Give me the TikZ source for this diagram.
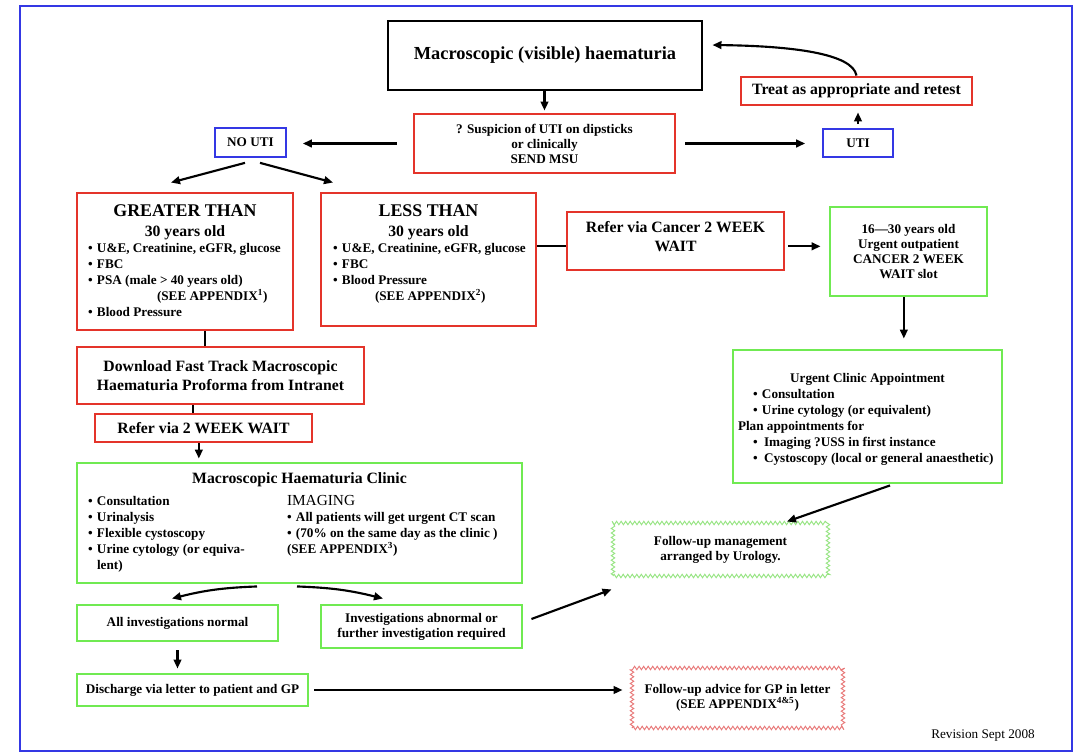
\documentclass[tikz,border=0pt]{standalone}
\usepackage{fontspec}
\setmainfont{Liberation Serif}
\usetikzlibrary{positioning,arrows.meta,decorations.pathmorphing}
\definecolor{boxred}{RGB}{228,52,42}
\definecolor{boxgreen}{RGB}{112,234,82}
\definecolor{boxblue}{RGB}{52,56,228}
\definecolor{zzgreen}{RGB}{150,228,130}
\definecolor{zzred}{RGB}{232,120,120}
\newcommand{\bul}{\makebox[6.75pt][l]{\textbullet}}
\newcommand{\smallbf}{\fontsize{9.9pt}{11.25pt}\selectfont\bfseries}
\newcommand{\listbf}{\fontsize{9.9pt}{12pt}\selectfont\bfseries}
\newcommand{\midbf}{\fontsize{11.8pt}{14pt}\selectfont\bfseries}
\newcommand{\titlebf}{\fontsize{13.8pt}{16pt}\selectfont\bfseries}
\tikzset{
    flowbox/.style={draw,line width=2.2pt,inner sep=0pt},
    redbox/.style={flowbox,draw=boxred},
    greenbox/.style={flowbox,draw=boxgreen},
    bluebox/.style={draw=boxblue,line width=1.3pt,inner sep=0pt,font=\smallbf},
    zzbox/.style={draw,line width=0.7pt,inner sep=0pt,align=center,font=\smallbf,
        decorate,decoration={zigzag,segment length=3.4pt,amplitude=1.3pt}},
    arr/.style={-{Triangle[length=6.75pt,width=5.75pt]},line width=1.6pt},
    conn/.style={line width=1.6pt}
}

\begin{document}
\begin{tikzpicture}[x=0.75pt,y=-0.75pt]
    \useasboundingbox (0,0) rectangle (1079,755);
    \draw[boxblue,line width=1.5pt] (20,6) rectangle (1072,751);

    \node[flowbox,draw=black,minimum width=235.5pt,minimum height=51.75pt,font=\titlebf] (main) at (545,55.5) {Macroscopic (visible) haematuria};
    \node[redbox,minimum width=173.25pt,minimum height=21pt,font=\midbf] (treat) at (856.5,91) {Treat as appropriate and retest};
    \node[redbox,minimum width=195.75pt,minimum height=44.25pt,align=center,font=\smallbf] (susp) at (544.5,143.5) {? Suspicion of UTI on dipsticks\\or clinically\\SEND MSU};
    \node[bluebox,minimum width=53.25pt,minimum height=21.75pt] (noUTI) at (250.5,142.5) {NO UTI};
    \node[bluebox,minimum width=52.5pt,minimum height=21pt] (uti) at (858,143) {UTI};

    \node[redbox,minimum width=162pt,minimum height=102.75pt] (greater) at (185,261.5) {\begin{minipage}[c][102.75pt][t]{162pt}\bfseries\centering
        \vspace*{8.4pt}
        {\fontsize{13.4pt}{15pt}\selectfont GREATER THAN\par}
        {\fontsize{11.8pt}{15pt}\selectfont 30 years old\par}
        \listbf\raggedright\leftskip=8.25pt
        \bul U\&E, Creatinine, eGFR, glucose\\
        \bul FBC\\
        \bul PSA (male > 40 years old)\\
        \hspace*{51.75pt}(SEE APPENDIX\textsuperscript{1})\\
        \bul Blood Pressure\par
    \end{minipage}};
    \node[redbox,minimum width=161.25pt,minimum height=99.75pt] (less) at (428.5,259.5) {\begin{minipage}[c][99.75pt][t]{161.25pt}\bfseries\centering
        \vspace*{8.4pt}
        {\fontsize{13.4pt}{15pt}\selectfont LESS THAN\par}
        {\fontsize{11.8pt}{15pt}\selectfont 30 years old\par}
        \listbf\raggedright\leftskip=9pt
        \bul U\&E, Creatinine, eGFR, glucose\\
        \bul FBC\\
        \bul Blood Pressure\\
        \hspace*{31.5pt}(SEE APPENDIX\textsuperscript{2})\par
    \end{minipage}};

    \node[redbox,minimum width=162.75pt,minimum height=43.5pt] (cancer) at (675.5,241) {\begin{minipage}[c][43.5pt][t]{162.75pt}\midbf\centering
        \vspace*{7pt}
        Refer via Cancer 2 WEEK\\WAIT\par
    \end{minipage}};
    \node[greenbox,minimum width=117.75pt,minimum height=66.75pt,align=center,font=\smallbf] (t16) at (908.5,251.5) {16---30 years old\\Urgent outpatient\\CANCER 2 WEEK\\WAIT slot};
    \node[greenbox,minimum width=201.75pt,minimum height=99.75pt] (urgent) at (867.5,416.5) {\begin{minipage}[c][99.75pt][t]{194.25pt}\listbf
        \vspace*{17.3pt}
        {\centering Urgent Clinic Appointment\par}
        \raggedright
        \hspace*{11.25pt}\bul Consultation\\
        \hspace*{11.25pt}\bul Urine cytology (or equivalent)\\
        Plan appointments for\\
        \hspace*{11.25pt}\makebox[8.25pt][l]{\textbullet}Imaging ?USS in first instance\\
        \hspace*{11.25pt}\makebox[8.25pt][l]{\textbullet}Cystoscopy (local or general anaesthetic)\par
    \end{minipage}};
    \node[zzbox,draw=zzgreen,minimum width=161.25pt,minimum height=39.75pt] (mgmt) at (720.5,549.5) {Follow-up management\\arranged by Urology.};

    \node[redbox,minimum width=215.25pt,minimum height=42.75pt,align=center,font=\fontsize{11.8pt}{14.25pt}\selectfont\bfseries] (download) at (220.5,375.5) {Download Fast Track Macroscopic\\Haematuria Proforma from Intranet};
    \node[redbox,minimum width=162.75pt,minimum height=21pt,font=\midbf] (wait2) at (203.5,428) {Refer via 2 WEEK WAIT};
    \node[greenbox,minimum width=333.75pt,minimum height=90pt] (clinic) at (299.5,523) {\begin{minipage}[c][90pt][t]{333.75pt}\bfseries
        \vspace*{7pt}
        {\centering\fontsize{11.8pt}{14pt}\selectfont Macroscopic Haematuria Clinic\par}
        \fontsize{9.9pt}{16.5pt}\selectfont\hspace*{8.25pt}%
        \begin{minipage}[t]{149.25pt}\listbf
            \bul Consultation\\
            \bul Urinalysis\\
            \bul Flexible cystoscopy\\
            \bul Urine cytology (or equiva-\\
            \hspace*{6.75pt}lent)
        \end{minipage}%
        \begin{minipage}[t]{170pt}\listbf
            {\mdseries\fontsize{11.5pt}{12pt}\selectfont IMAGING}\\
            \bul All patients will get urgent CT scan\\
            \bul (70\% on the same day as the clinic )\\
            (SEE APPENDIX\textsuperscript{3})
        \end{minipage}\par
    \end{minipage}};

    \node[greenbox,minimum width=150.75pt,minimum height=27pt,font=\smallbf] (normal) at (177.5,623) {All investigations normal};
    \node[greenbox,minimum width=150.75pt,minimum height=32.25pt,align=center,font=\smallbf] (abnormal) at (421.5,626.5) {Investigations abnormal or\\further investigation required};
    \node[greenbox,minimum width=173.25pt,minimum height=24pt,font=\smallbf] (discharge) at (192.5,690) {Discharge via letter to patient and GP};
    \node[zzbox,draw=zzred,minimum width=158.25pt,minimum height=45pt] (advice) at (737.5,698) {Follow-up advice for GP in letter\\(SEE APPENDIX\textsuperscript{4\&5})};
    \node[font=\fontsize{9.9pt}{12pt}\selectfont] (rev) at (983,736) {Revision Sept 2008};

    \coordinate (lc) at ([yshift=-4]cancer.west);
    \coordinate (rc) at ([yshift=-4]cancer.east);
    \coordinate (ts) at ([xshift=-3.5]t16.south);
    \coordinate (gd) at ([xshift=15]greater.south);
    \coordinate (dw) at ([xshift=-20.5]download.south);
    \coordinate (wc) at ([xshift=-3.5]wait2.south);

    \draw[arr,shorten >=1.5pt] (main.south -| susp.north) -- (susp.north);
    \draw[arr,shorten <=12pt,shorten >=12pt] (susp.west) -- (susp.west -| noUTI.east);
    \draw[arr,shorten <=6.75pt,shorten >=12.75pt] (susp.east) -- (susp.east -| uti.west);
    \draw[arr,shorten <=3pt,shorten >=4.5pt] (uti.north) -- (uti.north |- treat.south);
    \draw[arr] (treat.north) .. controls +(-4,-22) and +(80,1) .. ([shift={(9,-10.5)}]main.east);
    \draw[arr] ([shift={(-5.5,5)}]noUTI.south) -- ([shift={(-14,-9)}]greater.north);
    \draw[arr] ([shift={(9.5,5)}]noUTI.south) -- ([shift={(-95.5,-9)}]less.north);

    \draw[conn] (lc -| less.east) -- (lc);
    \draw[arr,shorten <=2.25pt,shorten >=6pt] (rc) -- (rc -| t16.west);
    \draw[arr,shorten >=7.5pt] (ts) -- (ts |- urgent.north);
    \draw[arr] ([shift={(22.5,1)}]urgent.south) -- ([shift={(66.5,-1)}]mgmt.north);

    \draw[conn] (gd) -- (gd |- download.north);
    \draw[conn] (dw) -- (dw |- wait2.north);
    \draw[arr,shorten >=2.25pt] (wc) -- (wc |- clinic.north);
    \draw[arr] ([shift={(-42.5,2)}]clinic.south) to[bend right=6] ([shift={(-5.5,-5)}]normal.north);
    \draw[arr] ([shift={(-2.5,2)}]clinic.south) to[bend left=6] ([shift={(-38.5,-5)}]abnormal.north);
    \draw[arr,shorten <=6pt,shorten >=3pt] (normal.south) -- (normal.south |- discharge.north);
    \draw[arr,shorten <=3.75pt,shorten >=6.75pt] (discharge.east) -- (discharge.east -| advice.west);
    \draw[arr] ([shift={(8,-7.5)}]abnormal.east) -- ([shift={(-1,13)}]mgmt.south west);
\end{tikzpicture}
\end{document}
